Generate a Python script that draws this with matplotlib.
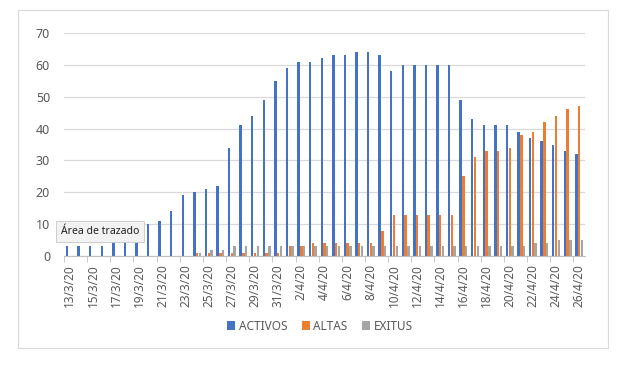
import matplotlib.pyplot as plt
from matplotlib.patches import Rectangle
import numpy as np
import pandas as pd

plt.rcParams['font.family'] = ['Noto Sans', 'DejaVu Sans']

dias = pd.date_range("2020-03-13", "2020-04-26")
etiquetas = [f"{d.day}/{d.month}/20" for d in dias]

activos = [3, 3, 3, 3, 6, 7, 8, 10, 11, 14, 19, 20, 21, 22, 34, 41, 44, 49, 55, 59,
           61, 61, 62, 63, 63, 64, 64, 63, 58, 60, 60, 60, 60, 60, 49, 43, 41, 41, 41,
           39, 37, 36, 35, 33, 32]
altas = [0, 0, 0, 0, 0, 0, 0, 0, 0, 0, 0, 1, 1, 1, 1, 1, 1, 1, 1, 3,
         3, 4, 4, 4, 4, 4, 4, 8, 13, 13, 13, 13, 13, 13, 25, 31, 33, 33, 34,
         38, 39, 42, 44, 46, 47]
exitus = [0, 0, 0, 0, 0, 0, 0, 0, 0, 0, 0, 1, 2, 2, 3, 3, 3, 3, 3, 3,
          3, 3, 3, 3, 3, 3, 3, 3, 3, 3, 3, 3, 3, 3, 3, 3, 3, 3, 3,
          3, 4, 4, 5, 5, 5]

series = [("ACTIVOS", activos, "#4472C4"),
          ("ALTAS", altas, "#ED7D31"),
          ("EXITUS", exitus, "#A5A5A5")]

fig = plt.figure(figsize=(6.25, 3.68), dpi=100)
ax = fig.add_axes([0.1024, 0.3043, 0.8336, 0.606])

x = np.arange(len(etiquetas))
ancho = 0.21
for i, (nombre, vals, color) in enumerate(series):
    ax.bar(x + (i - 1) * 0.24, vals, width=ancho, color=color, label=nombre, zorder=2)

ax.set_xlim(-0.5, len(etiquetas) - 0.5)
ax.set_ylim(0, 70)
ax.set_yticks(range(0, 71, 10))
ax.yaxis.grid(True, color="#d9d9d9", linewidth=0.9, zorder=0)
ax.set_axisbelow(True)

ax.set_xticks(x[::2])
ax.set_xticklabels(etiquetas[::2], rotation=90)
ax.set_xticks(np.arange(-0.5, len(etiquetas), 2), minor=True)
ax.tick_params(axis="x", which="major", length=0, pad=6, labelsize=8.5, labelcolor="#595959")
ax.tick_params(axis="x", which="minor", length=4, color="#bfbfbf")
ax.tick_params(axis="y", length=0, pad=10, labelsize=9, labelcolor="#595959")

for s in ["top", "right", "left"]:
    ax.spines[s].set_visible(False)
ax.spines["bottom"].set_color("#bfbfbf")

fig.legend(loc="center", bbox_to_anchor=(0.512, 0.114), ncol=3, frameon=False,
           fontsize=8.5, handlelength=0.7, handleheight=0.7, handletextpad=0.3,
           columnspacing=1.2, labelcolor="#595959")

# marco del gráfico
fig.patches.append(Rectangle((18 / 625, 1 - 348 / 368), 590 / 625, 338 / 368,
                             transform=fig.transFigure, fill=False,
                             edgecolor="#d9d9d9", linewidth=0.8))

# tooltip de Excel
fig.text(61 / 625, 1 - 231.5 / 368, "Área de trazado", fontsize=7.5, va="center",
         color="#222222", zorder=10,
         bbox=dict(boxstyle="square,pad=0.45", facecolor="#f2f2f2", edgecolor="#c8c8c8",
                   linewidth=0.6))

fig.savefig("out.png", dpi=100)
